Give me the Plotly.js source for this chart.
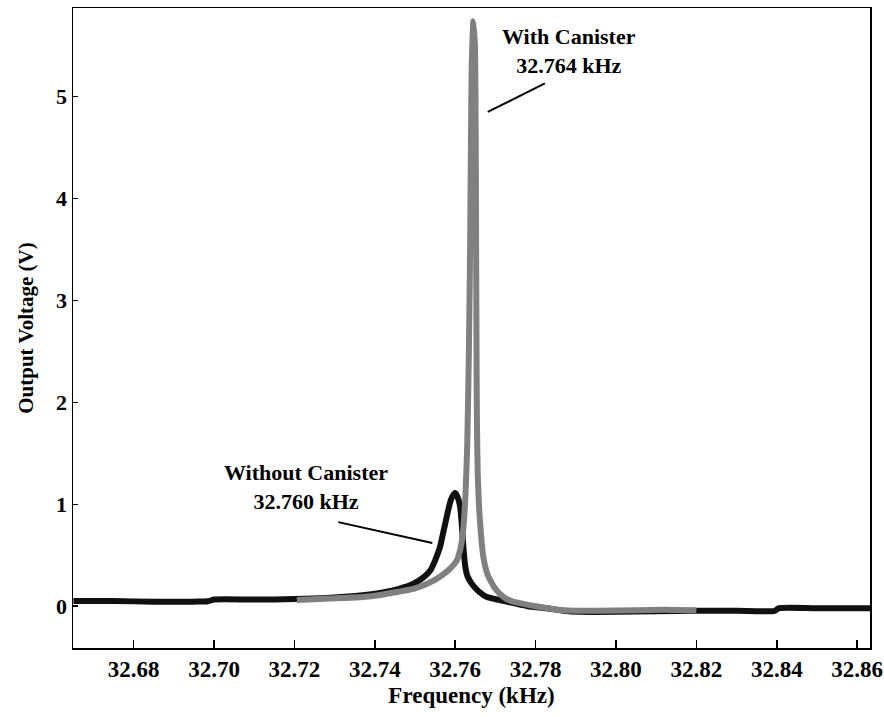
<!DOCTYPE html>
<html>
<head>
<meta charset="utf-8">
<script src="https://cdn.plot.ly/plotly-3.0.1.min.js"></script>
<style>
  html, body { margin: 0; padding: 0; background: #ffffff; }
  #chart { width: 884px; height: 717px; }
</style>
</head>
<body>
<div id="chart"></div>
<script>
// Resonance sweep of the tuning-fork sensor, with and without the canister.

// Without canister (black trace)
const freqWithout = [
  32.665, 32.675, 32.685, 32.695, 32.6985, 32.700, 32.710, 32.720, 32.728, 32.735,
  32.7413, 32.746, 32.7496, 32.752, 32.7538, 32.755, 32.7562, 32.757, 32.7579, 32.7586,
  32.7592, 32.760, 32.7606, 32.7612, 32.7616, 32.7619, 32.7622, 32.7625, 32.763, 32.7641,
  32.766, 32.7679, 32.771, 32.7745, 32.778, 32.7828, 32.787, 32.791, 32.800, 32.810,
  32.820, 32.830, 32.8395, 32.8405, 32.850, 32.8632
];
const voltWithout = [
  0.050, 0.050, 0.045, 0.045, 0.048, 0.065, 0.065, 0.070, 0.080, 0.100,
  0.130, 0.170, 0.220, 0.280, 0.350, 0.450, 0.580, 0.720, 0.880, 1.000,
  1.070, 1.110, 1.070, 0.980, 0.820, 0.650, 0.500, 0.390, 0.300, 0.220,
  0.140, 0.090, 0.060, 0.030, 0.000, -0.020, -0.045, -0.055, -0.055, -0.050,
  -0.045, -0.045, -0.045, -0.020, -0.020, -0.020
];

// With canister (grey trace)
const freqWith = [
  32.7206, 32.726, 32.732, 32.737, 32.7413, 32.7455, 32.7496, 32.753, 32.7562, 32.7585,
  32.7604, 32.7612, 32.7617, 32.7622, 32.7626, 32.7630, 32.7634, 32.7637, 32.7639, 32.7641,
  32.7645, 32.7649, 32.7651, 32.7652, 32.7653, 32.7654, 32.7656, 32.7659, 32.7662, 32.7666,
  32.767, 32.7678, 32.7687, 32.770, 32.772, 32.774, 32.7761, 32.780, 32.7868, 32.795,
  32.805, 32.812, 32.820
];
const voltWith = [
  0.060, 0.070, 0.080, 0.090, 0.110, 0.140, 0.170, 0.220, 0.290, 0.360,
  0.450, 0.550, 0.650, 0.850, 1.140, 1.600, 2.500, 3.500, 4.500, 5.300,
  5.740, 5.500, 4.600, 3.500, 2.500, 1.800, 1.300, 1.000, 0.810, 0.620,
  0.480, 0.340, 0.255, 0.170, 0.090, 0.050, 0.030, 0.000, -0.040, -0.045,
  -0.040, -0.035, -0.040
];

const xTickVals = [32.68, 32.70, 32.72, 32.74, 32.76, 32.78, 32.80, 32.82, 32.84, 32.86];
const xTickText = ['32.68', '32.70', '32.72', '32.74', '32.76', '32.78', '32.80', '32.82', '32.84', '32.86'];
const yTickVals = [0, 1, 2, 3, 4, 5];
const yTickText = ['0', '1', '2', '3', '4', '5'];

const serif = 'Liberation Serif, Times New Roman, serif';

const traces = [
  {
    x: freqWithout, y: voltWithout, type: 'scatter', mode: 'lines',
    name: 'Without Canister',
    line: { color: '#101010', width: 6, shape: 'spline', smoothing: 0.6 },
    hoverinfo: 'x+y'
  },
  {
    x: freqWith, y: voltWith, type: 'scatter', mode: 'lines',
    name: 'With Canister',
    line: { color: '#808080', width: 6, shape: 'spline', smoothing: 0.5 },
    hoverinfo: 'x+y'
  }
];

const layout = {
  width: 884, height: 717,
  margin: { l: 73, r: 14, t: 8, b: 69 },
  paper_bgcolor: '#ffffff', plot_bgcolor: '#ffffff',
  showlegend: false,
  font: { family: serif, color: '#000000' },
  xaxis: {
    range: [32.6649, 32.8632],
    tickmode: 'array', tickvals: xTickVals, ticktext: xTickText,
    ticks: 'inside', ticklen: 8, tickwidth: 1.5, tickcolor: '#000',
    ticklabeloverflow: 'allow',
    showline: true, linecolor: '#000', linewidth: 1.5, mirror: true,
    showgrid: false, zeroline: false,
    tickfont: { family: serif, size: 23, weight: 'bold', color: '#000' },
    title: { text: 'Frequency (kHz)', standoff: 6,
             font: { family: serif, size: 23, weight: 'bold', color: '#000' } }
  },
  yaxis: {
    range: [-0.41, 5.87],
    tickmode: 'array', tickvals: yTickVals, ticktext: yTickText,
    ticks: 'inside', ticklen: 5, tickwidth: 1.5, tickcolor: '#000',
    showline: true, linecolor: '#000', linewidth: 1.5, mirror: true,
    showgrid: false, zeroline: false,
    tickfont: { family: serif, size: 22, weight: 'bold', color: '#000' },
    title: { text: 'Output Voltage (V)', standoff: 16,
             font: { family: serif, size: 21, weight: 'bold', color: '#000' } }
  },
  annotations: [
    {
      x: 32.7882, y: 5.45, xref: 'x', yref: 'y',
      text: 'With Canister<br>32.764 kHz', showarrow: false,
      font: { family: serif, size: 22, weight: 'bold', color: '#000' },
      align: 'center'
    },
    {
      x: 32.7229, y: 1.17, xref: 'x', yref: 'y',
      text: 'Without Canister<br>32.760 kHz', showarrow: false,
      font: { family: serif, size: 22, weight: 'bold', color: '#000' },
      align: 'center'
    }
  ],
  shapes: [
    { type: 'line', xref: 'x', yref: 'y', x0: 32.7823, y0: 5.13, x1: 32.7681, y1: 4.85,
      line: { color: '#000', width: 2 } },
    { type: 'line', xref: 'x', yref: 'y', x0: 32.7309, y0: 0.825, x1: 32.7543, y1: 0.62,
      line: { color: '#000', width: 2 } }
  ]
};

Plotly.newPlot('chart', traces, layout, { displayModeBar: false, staticPlot: true });
</script>
</body>
</html>
